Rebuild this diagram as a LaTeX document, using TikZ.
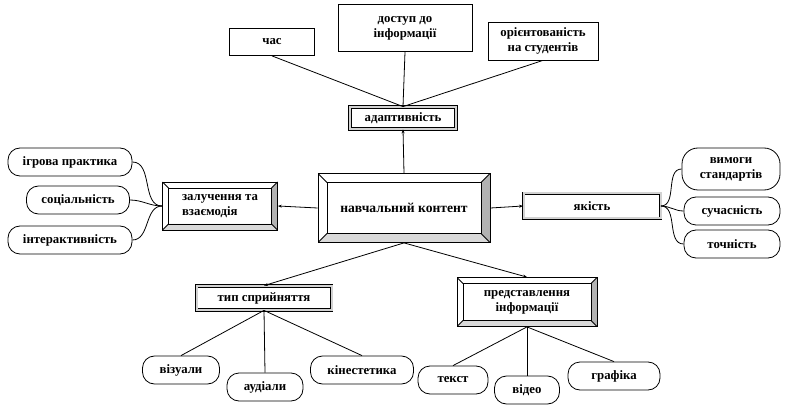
\documentclass[tikz,border=0pt]{standalone}
\usepackage{fontspec}
\setmainfont{Liberation Serif}
\usetikzlibrary{arrows.meta, positioning}
\tikzset{
  plainbox/.style={rectangle, draw, thick, align=center, inner sep=2pt},
  pill/.style={rectangle, draw, thick, rounded corners=12pt, align=center,
               minimum height=28pt, inner sep=2pt},
  dblbox/.style={rectangle, draw, line width=0.8pt, double=gray!35,
                 double distance=2pt, align=center, inner sep=2pt},
  bevelbox/.style={rectangle, draw, thick, align=center, path picture={
    \coordinate (ine) at ([shift={(-#1,-#1)}]path picture bounding box.north east);
    \coordinate (inw) at ([shift={(#1,-#1)}]path picture bounding box.north west);
    \coordinate (ise) at ([shift={(-#1,#1)}]path picture bounding box.south east);
    \coordinate (isw) at ([shift={(#1,#1)}]path picture bounding box.south west);
    \fill[gray!60] (path picture bounding box.north east) -- (ine) -- (ise)
      -- (path picture bounding box.south east) -- cycle;
    \fill[gray!30] (path picture bounding box.south west) -- (isw) -- (ise)
      -- (path picture bounding box.south east) -- cycle;
    \draw[thick] (inw) -- (ine) -- (ise) -- (isw) -- cycle;
    \draw (path picture bounding box.north west) -- (inw)
          (path picture bounding box.north east) -- (ine)
          (path picture bounding box.south east) -- (ise)
          (path picture bounding box.south west) -- (isw);
  }},
  bevelbox/.default=7pt,
  arrow/.style={-{Stealth[length=4pt,width=3pt]}, thick},
  link/.style={thick},
}

\begin{document}
\begin{tikzpicture}[x=1pt, y=-1pt, font=\bfseries\fontsize{12.8}{15}\selectfont]
  \useasboundingbox (0,0) rectangle (787,406);

  % centre
  \node[bevelbox=9pt, minimum width=172pt, minimum height=69pt,
        font=\bfseries\fontsize{13.6}{15}\selectfont] (content) at (404,208) {навчальний контент};

  % top branch
  \node[dblbox, minimum width=106pt, minimum height=22pt] (adapt) at (403,118) {адаптивність};
  \node[plainbox, minimum width=85pt, minimum height=27pt] (time) at (272,42) {час};
  \node[plainbox, minimum width=134pt, minimum height=47pt] (access) at (405,28) {доступ до\\інформації};
  \node[plainbox, minimum width=110pt, minimum height=38pt] (student) at (543,41) {орієнтованість\\на студентів};

  \draw[arrow] (content.north) -- (adapt.south);
  \draw[link] (time.south) -- (adapt.north);
  \draw[link] (access.south) -- (adapt.north);
  \draw[link] (student.south) -- (adapt.north);

  % left branch
  \node[bevelbox=6pt, minimum width=115pt, minimum height=48pt, align=left] (engage) at (220,206) {залучення та\\взаємодія};
  \node[pill, minimum width=124pt] (game) at (70,162) {ігрова практика};
  \node[pill, minimum width=103pt] (social) at (78,200) {соціальність};
  \node[pill, minimum width=124pt] (interact) at (70,240) {інтерактивність};

  \draw[arrow] (content.west) -- (engage.east);
  \draw[link] (game.east) to[out=0, in=180] (engage.west);
  \draw[link] (social.east) to[out=0, in=180] (engage.west);
  \draw[link] (interact.east) to[out=0, in=180] (engage.west);

  % right branch
  \node[dblbox, minimum width=137pt, minimum height=25pt] (quality) at (592,206) {якість};
  \node[pill, rounded corners=16pt, minimum width=98pt, minimum height=42pt] (standard) at (731,169) {вимоги\\стандартів};
  \node[pill, minimum width=96pt] (modern) at (732,211) {сучасність};
  \node[pill, minimum width=96pt] (accuracy) at (732,244) {точність};

  \draw[arrow] (content.east) -- (quality.west);
  \draw[link] (quality.east) to[out=0, in=180] (standard.west);
  \draw[link] (quality.east) to[out=0, in=180] (modern.west);
  \draw[link] (quality.east) to[out=0, in=180] (accuracy.west);

  % bottom left branch
  \node[dblbox, minimum width=135pt, minimum height=24pt] (percep) at (264,298) {тип сприйняття};
  \node[pill, minimum width=77pt] (visual) at (181,370) {візуали};
  \node[pill, minimum width=76pt] (audio) at (265,387) {аудіали};
  \node[pill, minimum width=103pt] (kinest) at (362,370) {кінестетика};

  \draw[arrow] (content.south) -- (percep.north);
  \draw[link] (percep.south) -- (visual.north);
  \draw[link] (percep.south) -- (audio.north);
  \draw[link] (percep.south) -- (kinest.north);

  % bottom right branch
  \node[bevelbox=6pt, minimum width=140pt, minimum height=49pt] (present) at (527,302) {представлення\\інформації};
  \node[pill, minimum width=70pt] (text) at (453,380) {текст};
  \node[pill, minimum width=65pt] (video) at (527,390) {відео};
  \node[pill, minimum width=92pt] (graphic) at (614,376) {графіка};

  \draw[arrow] (content.south) -- (present.north);
  \draw[link] (present.south) -- (text.north);
  \draw[link] (present.south) -- (video.north);
  \draw[link] (present.south) -- (graphic.north);
\end{tikzpicture}
\end{document}
